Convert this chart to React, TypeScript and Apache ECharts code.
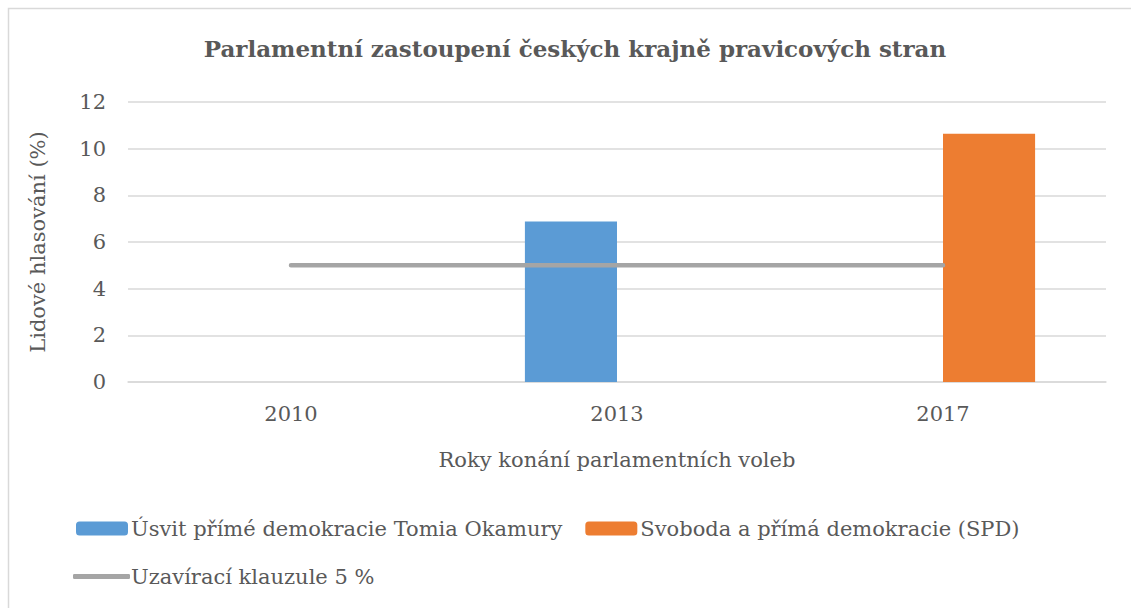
import React, { useEffect, useRef } from "react";
import * as echarts from "echarts";

const titleText = "Parlamentní zastoupení českých krajně pravicových stran";
const categories = ["2010", "2013", "2017"];
const usvitName = "Úsvit přímé demokracie Tomia Okamury";
const spdName = "Svoboda a přímá demokracie (SPD)";
const klauzuleName = "Uzavírací klauzule 5 %";
const usvitValues = [0, 6.88, 0];
const spdValues = [0, 0, 10.64];
const klauzuleValues = [5, 5, 5];
const yTicks = { min: 0, max: 12, interval: 2 };

const FONT = "DejaVu Serif";
const TXT = "#595959";
const FS = 21;

export default function App() {
  const ref = useRef<HTMLDivElement>(null);
  useEffect(() => {
    const chart = echarts.init(ref.current!, null, { renderer: "svg" });
    chart.setOption({
      animation: false,
      backgroundColor: "#ffffff",
      textStyle: { fontFamily: FONT, color: TXT },
      title: {
        text: titleText,
        left: 570,
        textAlign: "center",
        top: 32,
        textStyle: { fontFamily: FONT, fontSize: 23, fontWeight: "bold", color: TXT },
      },
      graphic: [
        {
          type: "rect",
          shape: { x: 8.5, y: 8.5, width: 1200, height: 700 },
          style: { fill: "none", stroke: "#d9d9d9", lineWidth: 1.5 },
          silent: true,
          z: -1,
        },
      ],
      legend: [
        {
          data: [usvitName, spdName],
          left: 76,
          top: 518,
          itemWidth: 52,
          itemHeight: 14,
          itemGap: 23,
          padding: 0,
          textStyle: { fontFamily: FONT, fontSize: FS, color: TXT, padding: [0, 0, 0, -2] },
        },
        {
          data: [{ name: klauzuleName, icon: "roundRect" }],
          left: 73,
          top: 566,
          itemWidth: 57,
          itemHeight: 5,
          padding: 0,
          textStyle: { fontFamily: FONT, fontSize: FS, color: TXT, padding: [0, 0, 0, -4] },
        },
      ],
      grid: { left: 128, right: 25, top: 102, bottom: 226, containLabel: false },
      xAxis: {
        type: "category",
        data: categories,
        axisLine: { show: true, lineStyle: { color: "#d9d9d9", width: 1.5 } },
        axisTick: { show: false },
        axisLabel: { fontFamily: FONT, fontSize: FS, color: TXT, margin: 21 },
        name: "Roky konání parlamentních voleb",
        nameLocation: "middle",
        nameGap: 67,
        nameTextStyle: { fontFamily: FONT, fontSize: FS, color: TXT },
      },
      yAxis: {
        type: "value",
        min: yTicks.min,
        max: yTicks.max,
        interval: yTicks.interval,
        axisLine: { show: false },
        axisTick: { show: false },
        splitLine: { lineStyle: { color: "#d9d9d9", width: 1.5 } },
        axisLabel: { fontFamily: FONT, fontSize: FS, color: TXT, margin: 22 },
        name: "Lidové hlasování (%)",
        nameLocation: "middle",
        nameGap: 80,
        nameTextStyle: { fontFamily: FONT, fontSize: FS, color: TXT },
      },
      series: [
        {
          name: usvitName,
          type: "bar",
          data: usvitValues,
          itemStyle: { color: "#5b9bd5" },
          barGap: "0%",
          barCategoryGap: "43.5%",
        },
        {
          name: spdName,
          type: "bar",
          data: spdValues,
          itemStyle: { color: "#ed7d31" },
        },
        {
          name: klauzuleName,
          type: "line",
          data: klauzuleValues,
          symbol: "none",
          lineStyle: { color: "#a5a5a5", width: 4.5, cap: "round" },
          itemStyle: { color: "#a5a5a5" },
          z: 3,
        },
      ],
    });
    return () => chart.dispose();
  }, []);
  return (
    <div
      ref={ref}
      style={{ position: "fixed", left: 0, top: 0, width: 1131, height: 608 }}
    />
  );
}
